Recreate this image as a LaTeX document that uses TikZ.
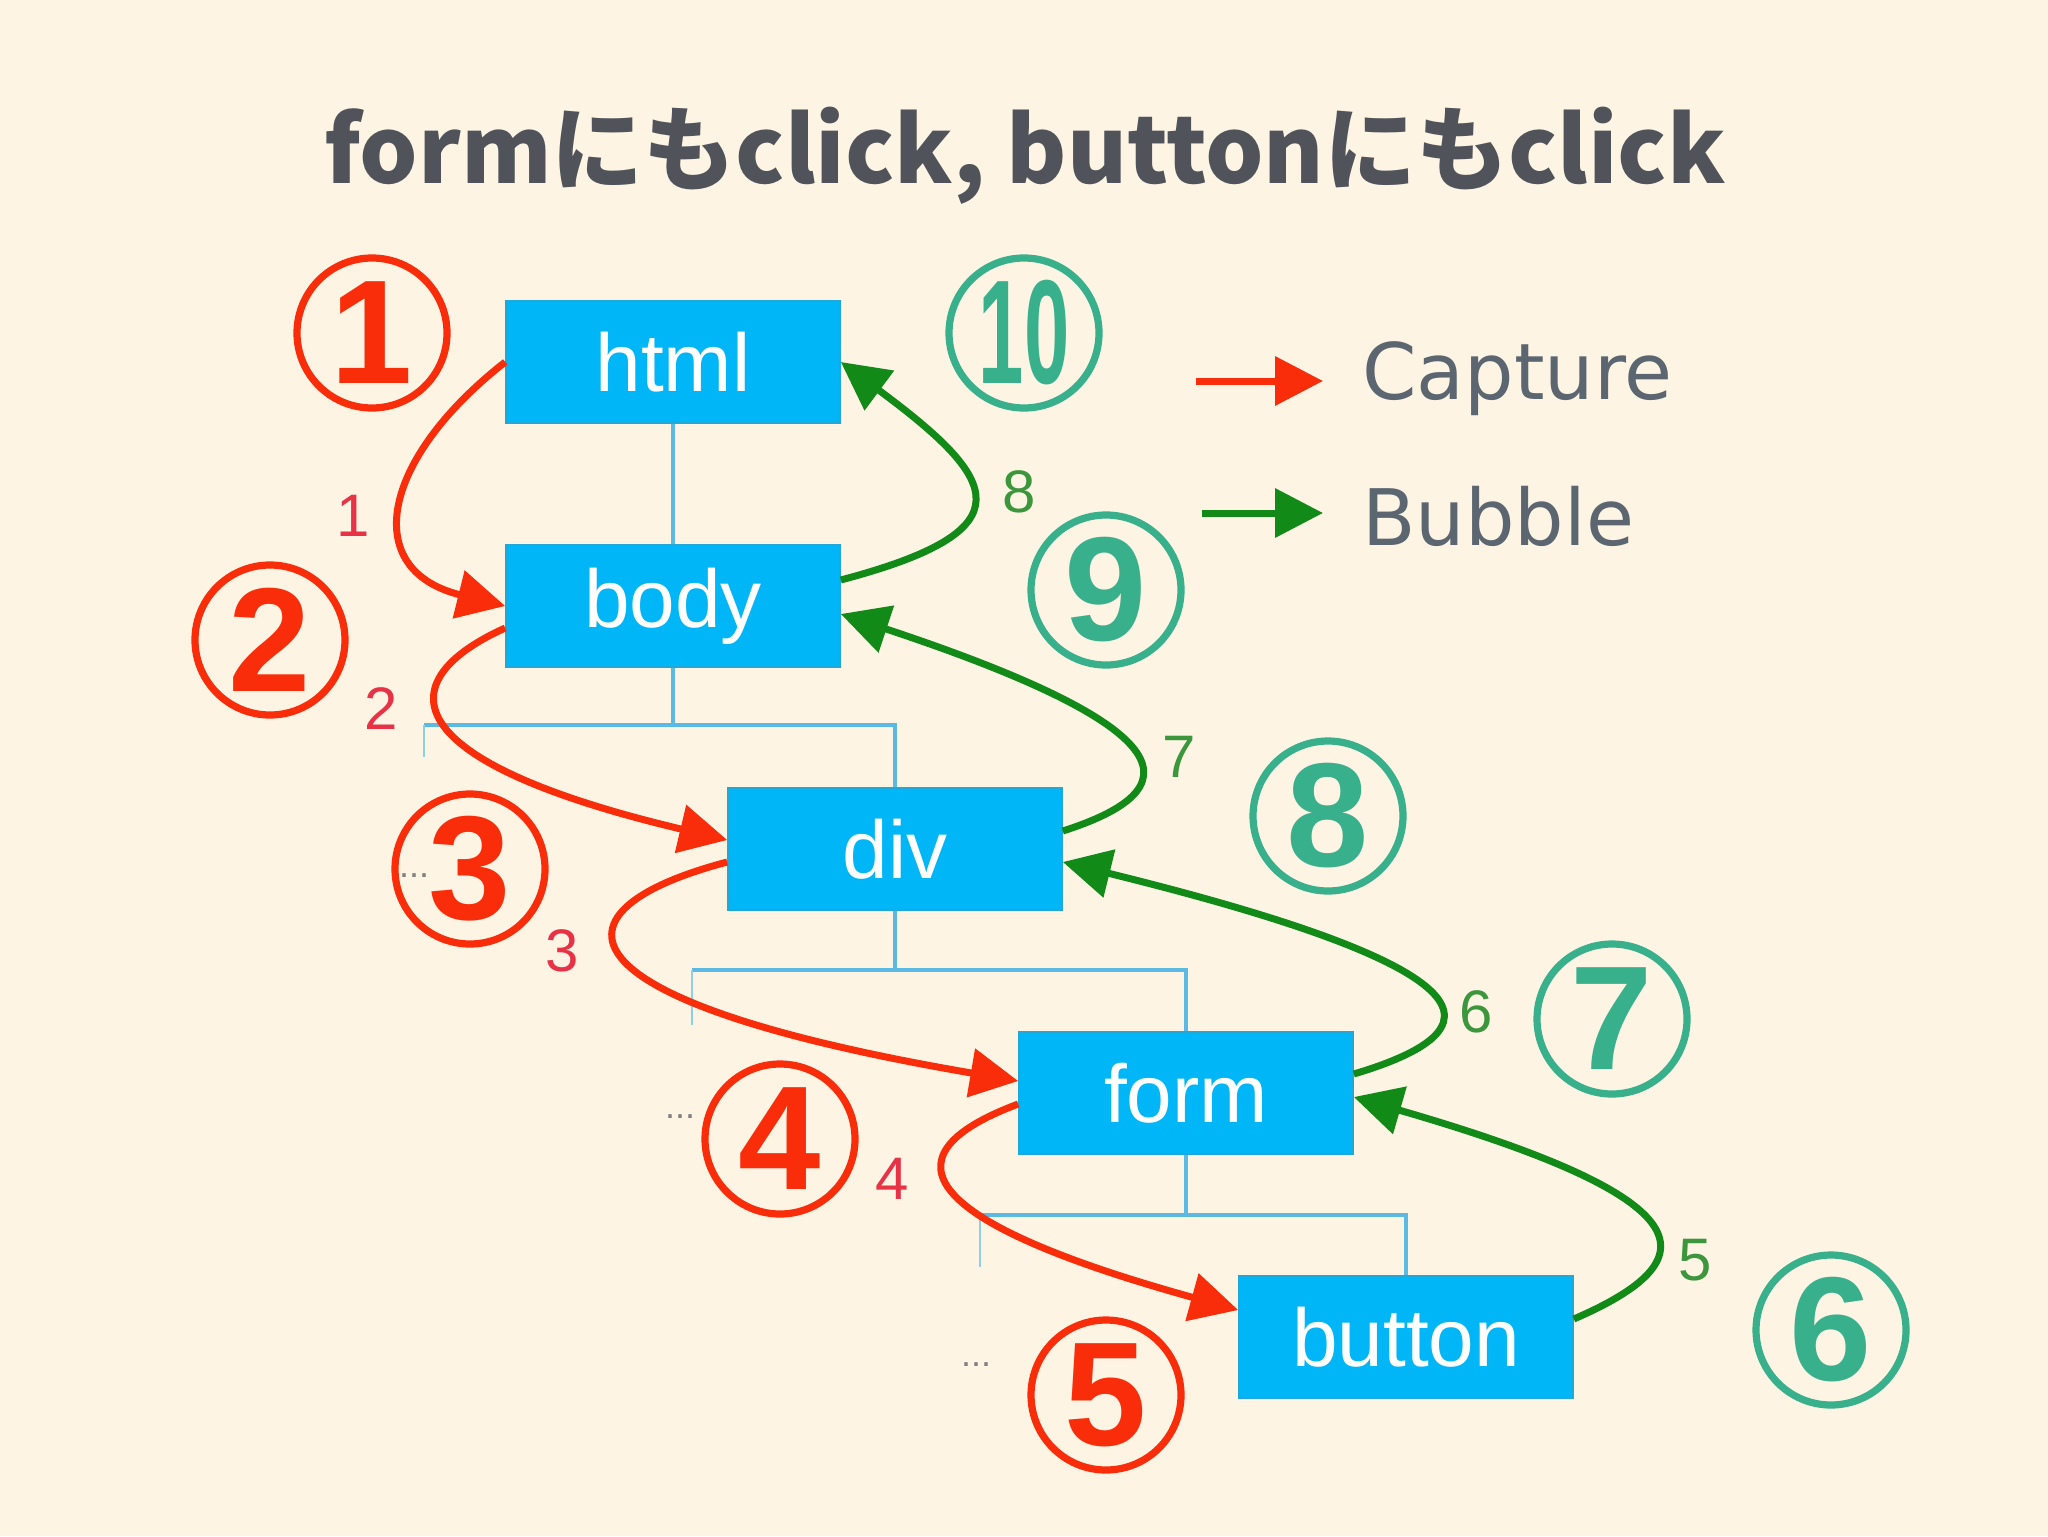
\documentclass[tikz,border=0pt]{standalone}
\usepackage{fontspec}
\setmainfont{Liberation Sans}
\newfontfamily\jp{Noto Sans CJK JP}
\newfontfamily\dv{DejaVu Sans}
\usetikzlibrary{arrows.meta,calc}
\definecolor{bg}{RGB}{253,244,228}
\definecolor{boxblue}{RGB}{0,182,246}
\definecolor{capred}{RGB}{250,45,10}
\definecolor{bubgreen}{RGB}{18,138,24}
\definecolor{tealc}{RGB}{56,176,140}
\definecolor{treeblue}{RGB}{90,186,228}
\definecolor{titlegray}{RGB}{80,84,90}
\definecolor{lblred}{RGB}{232,50,70}
\definecolor{lblgreen}{RGB}{60,150,60}
\definecolor{leggray}{RGB}{92,102,112}
\begin{document}
\begin{tikzpicture}[x=0.5pt,y=-0.5pt,
  elem/.style={fill=boxblue,draw=boxblue!75!gray,line width=0.8pt,minimum width=167pt,minimum height=61pt,inner sep=0pt,text=white,font=\fontsize{41}{41}\selectfont},
  tree/.style={draw=treeblue,line width=2pt},
  stub/.style={draw=treeblue!70,line width=1.4pt},
  capar/.style={draw=capred,line width=3.5pt,-{Triangle[length=24pt,width=24pt]}},
  bubar/.style={draw=bubgreen,line width=3.5pt,-{Triangle[length=24pt,width=24pt]}},
  rcirc/.style={circle,draw=capred,line width=3.6pt,minimum size=75pt,inner sep=0pt,text=capred,font=\fontsize{74}{74}\selectfont\bfseries},
  gcirc/.style={circle,draw=tealc,line width=3.6pt,minimum size=75pt,inner sep=0pt,text=tealc,font=\fontsize{74}{74}\selectfont\bfseries},
  rlbl/.style={text=lblred,font=\fontsize{30}{30}\selectfont,inner sep=0pt},
  glbl/.style={text=lblgreen,font=\fontsize{30}{30}\selectfont,inner sep=0pt},
  dots/.style={text=gray,font=\fontsize{18}{18}\selectfont,inner sep=0pt},
  legtxt/.style={text=leggray,font=\dv\fontsize{39}{39}\selectfont,inner sep=0pt,anchor=west}
]
\fill[bg] (0,0) rectangle (2048,1536);
\useasboundingbox (0,0) rectangle (2048,1536);

% title
\node[anchor=base,text=titlegray,font=\jp\bfseries\fontsize{46}{46}\selectfont] (title) at (1025,183) {formにもclick, buttonにもclick};

% element boxes
\node[elem] (html) at (673,362) {html};
\node[elem] (body) at (673,606) {body};
\node[elem] (div) at (895,849) {div};
\node[elem] (form) at (1186,1093) {form};
\node[elem] (button) at (1406,1337) {button};

% tree lines
\coordinate (j1) at (673,725);
\coordinate (l1) at (424,725);
\coordinate (l1e) at (424,757);
\coordinate (j2) at (895,970);
\coordinate (l2) at (692,970);
\coordinate (l2e) at (692,1025);
\coordinate (j3) at (1186,1215);
\coordinate (l3) at (980,1215);
\coordinate (l3e) at (980,1267);
\draw[tree] (html.south) -- (body.north);
\draw[tree] (body.south) -- (j1);
\draw[tree] (l1) -| (div.north);
\draw[stub] (l1) -- (l1e);
\draw[tree] (div.south) -- (j2);
\draw[tree] (l2) -| (form.north);
\draw[stub] (l2) -- (l2e);
\draw[tree] (form.south) -- (j3);
\draw[tree] (l3) -| (button.north);
\draw[stub] (l3) -- (l3e);

\node[dots] (d1) at (414,876) {...};
\node[dots] (d2) at (680,1117) {...};
\node[dots] (d3) at (976,1365) {...};

% capture arrows
\draw[capar] (html.west) .. controls (380,460) and (360,570) .. (body.west);
\draw[capar] ($(body.west)+(0,22)$) .. controls (390,680) and (390,760) .. ($(div.west)+(0,-9)$);
\draw[capar] ($(div.west)+(0,13)$) .. controls (545,910) and (545,1000) .. ($(form.west)+(0,-12)$);
\draw[capar] ($(form.west)+(0,11)$) .. controls (895,1150) and (895,1215) .. ($(button.west)+(0,-27)$);

% bubble arrows
\draw[bubar] ($(button.east)+(0,-18)$) .. controls (1710,1260) and (1710,1200) .. ($(form.east)+(0,4)$);
\draw[bubar] ($(form.east)+(0,-19)$) .. controls (1501,1030) and (1501,970) .. ($(div.east)+(0,13)$);
\draw[bubar] ($(div.east)+(0,-18)$) .. controls (1191,790) and (1191,730) .. ($(body.east)+(0,8)$);
\draw[bubar] ($(body.east)+(0,-26)$) .. controls (1030,530) and (1000,480) .. (html.east);

% step labels
\node[rlbl] (n1) at (353,516) {1};
\node[rlbl] (n2) at (381,709) {2};
\node[rlbl] (n3) at (562,951) {3};
\node[rlbl] (n4) at (892,1179) {4};
\node[glbl] (n5) at (1695,1260) {5};
\node[glbl] (n6) at (1476,1012) {6};
\node[glbl] (n7) at (1179,757) {7};
\node[glbl] (n8) at (1019,492) {8};

% circled numbers
\node[rcirc] (c1) at (372,333) {1};
\node[rcirc] (c2) at (270,640) {2};
\node[rcirc] (c3) at (470,869) {3};
\node[rcirc] (c4) at (780,1139) {4};
\node[rcirc] (c5) at (1106,1395) {5};
\node[gcirc] (c6) at (1831,1330) {6};
\node[gcirc] (c7) at (1612,1019) {7};
\node[gcirc] (c8) at (1328,816) {8};
\node[gcirc] (c9) at (1106,590) {9};
\node[gcirc] (c10) at (1024,333) {\scalebox{0.55}[1]{10}};

% legend
\coordinate (la1) at (1196,381);
\coordinate (la2) at (1323,381);
\coordinate (lb1) at (1202,513);
\coordinate (lb2) at (1323,513);
\draw[capar] (la1) -- (la2);
\draw[bubar] (lb1) -- (lb2);
\node[legtxt] (lcap) at (1362,379) {Capture};
\node[legtxt] (lbub) at (1362,516) {Bubble};
\end{tikzpicture}
\end{document}
